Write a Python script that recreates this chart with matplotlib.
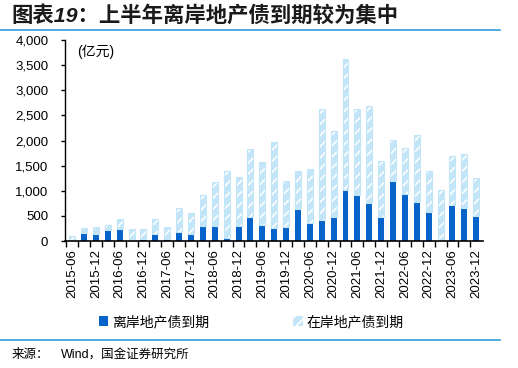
# Stacked bars: offshore vs onshore property bond maturities by quarter
import matplotlib
matplotlib.use('Agg')
import matplotlib.pyplot as plt
from matplotlib.patches import Patch
from matplotlib.lines import Line2D

plt.rcParams['font.family'] = ['Liberation Sans', 'Noto Sans CJK SC']
plt.rcParams['hatch.linewidth'] = 1.2

# quarterly periods, 2015-06 .. 2023-12
periods = ['2015-06', '2015-09', '2015-12', '2016-03', '2016-06', '2016-09',
           '2016-12', '2017-03', '2017-06', '2017-09', '2017-12', '2018-03',
           '2018-06', '2018-09', '2018-12', '2019-03', '2019-06', '2019-09',
           '2019-12', '2020-03', '2020-06', '2020-09', '2020-12', '2021-03',
           '2021-06', '2021-09', '2021-12', '2022-03', '2022-06', '2022-09',
           '2022-12', '2023-03', '2023-06', '2023-09', '2023-12']

# offshore maturities (亿元)
offshore = [0, 165, 140, 210, 235, 0, 50, 150, 40, 175, 150, 295,
            298, 60, 305, 484, 310, 265, 285, 637, 352, 424, 478, 1015,
            915, 756, 484, 1194, 935, 770, 577, 0, 716, 650, 497]

# onshore maturities (亿元)
onshore = [110, 85, 130, 105, 195, 230, 185, 280, 230, 480, 405, 615,
           882, 1327, 962, 1341, 1256, 1699, 903, 763, 1074, 2196, 1718, 2613,
           1712, 1937, 1114, 810, 922, 1333, 823, 1015, 982, 1075, 751]

dark_blue = '#0563C9'
light_blue = '#C3E5F8'

fig = plt.figure(figsize=(5.18, 3.68), dpi=100)
ax = fig.add_axes([0.1255, 0.345, 0.8065, 0.546])

x = list(range(len(periods)))
ax.bar(x, offshore, width=0.5, color=dark_blue, linewidth=0)
# onshore: light fill with white diagonal hatch, then a light outline
ax.bar(x, onshore, width=0.5, bottom=offshore, facecolor=light_blue,
       edgecolor='white', hatch='///', linewidth=0)
ax.bar(x, onshore, width=0.5, bottom=offshore, facecolor='none',
       edgecolor=light_blue, linewidth=0.8)

ax.set_xlim(-0.6, 34.55)
ax.set_ylim(0, 4000)
ax.set_yticks(range(0, 4001, 500))
ax.set_yticklabels([f'{v:,}' for v in range(0, 4001, 500)], fontsize=9.5)
ax.set_xticks(x[::2])
ax.set_xticklabels(periods[::2], rotation=90, fontsize=9.5)
ax.set_xticks([i + 0.5 for i in x[:-1]] + [-0.5], minor=True)
ax.tick_params(axis='x', which='major', length=0, pad=6)
ax.tick_params(axis='x', which='minor', length=4, direction='out', width=1)
ax.tick_params(axis='y', length=3, width=1, pad=9)

for s in ['top', 'right']:
    ax.spines[s].set_visible(False)
ax.spines['left'].set_linewidth(1)
ax.spines['bottom'].set_linewidth(1.2)

ax.text(0.03, 0.94, '(亿元)', transform=ax.transAxes, fontsize=10,
        va='center', ha='left')

# legend
handles = [Patch(facecolor=dark_blue, linewidth=0),
           Patch(facecolor=light_blue, edgecolor='white', hatch='///', linewidth=0)]
fig.legend(handles, ['离岸地产债到期', '在岸地产债到期'], loc='center',
           bbox_to_anchor=(0.485, 0.125), ncol=2, frameon=False, fontsize=10,
           handlelength=0.7, handleheight=0.7, handletextpad=0.3,
           columnspacing=6)

# title, rules and source
fig.text(0.023, 0.959, '图表19：上半年离岸地产债到期较为集中', fontsize=15.4,
         fontweight='bold', fontstyle='italic', va='center', ha='left',
         color='#1a1a1a')
fig.add_artist(Line2D([0, 500 / 518], [1 - 30 / 368] * 2, color='#2E9FD8', lw=1.2))
fig.add_artist(Line2D([0, 500 / 518], [1 - 340 / 368] * 2, color='#2E9FD8', lw=1.2))
fig.text(0.023, 0.035, '来源：', fontsize=9, va='center', ha='left')
fig.text(0.118, 0.035, 'Wind，国金证券研究所', fontsize=9, va='center', ha='left')

fig.savefig('out.png', dpi=100)
